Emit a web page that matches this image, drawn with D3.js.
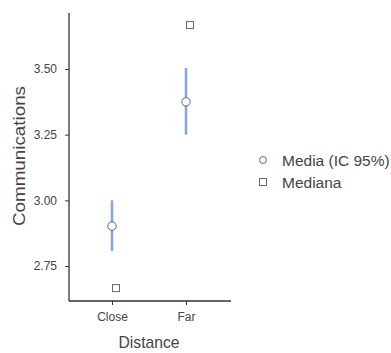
<!DOCTYPE html>
<html>
<head>
<meta charset="utf-8">
<script src="https://cdn.jsdelivr.net/npm/d3@7"></script>
<style>
  body { margin: 0; background: #fff; }
  svg text { font-family: "Liberation Sans", Arial, sans-serif; fill: #444; }
</style>
</head>
<body>
<div id="chart"></div>
<script>
// データ
const categories = ["Close", "Far"];
const means = [2.902, 3.375];
const ciLow = [2.807, 3.25];
const ciHigh = [3.0, 3.504];
const medians = [2.666, 3.667];
const yTicks = [2.75, 3.00, 3.25, 3.50];
const legendLabels = ["Media (IC 95%)", "Mediana"];

const width = 391, height = 353;
const svg = d3.select("#chart").append("svg")
  .attr("width", width)
  .attr("height", height);

const x = d3.scalePoint()
  .domain(categories)
  .range([112, 186]);

const y = d3.scaleLinear()
  .domain([2.617, 3.713])
  .range([301, 13]);

// 軸線
svg.append("line")
  .attr("x1", 69).attr("x2", 69)
  .attr("y1", y(3.713)).attr("y2", 301)
  .attr("stroke", "#333").attr("stroke-width", 1.3);
svg.append("line")
  .attr("x1", 69).attr("x2", 231)
  .attr("y1", 301).attr("y2", 301)
  .attr("stroke", "#333").attr("stroke-width", 1.3);

const yAxis = svg.append("g")
  .attr("transform", "translate(69,0)")
  .call(d3.axisLeft(y).tickValues(yTicks).tickFormat(d3.format(".2f")).tickSize(4).tickPadding(8));
yAxis.select(".domain").remove();
yAxis.selectAll("line").attr("stroke", "#333");
yAxis.selectAll("text").attr("font-size", 12).style("fill", "#444");

const xAxis = svg.append("g")
  .attr("transform", "translate(0,301)")
  .call(d3.axisBottom(x).tickSize(4).tickPadding(7));
xAxis.select(".domain").remove();
xAxis.selectAll("line").attr("stroke", "#333");
xAxis.selectAll("text").attr("font-size", 12).style("fill", "#444");

// 軸タイトル
svg.append("text")
  .attr("transform", "translate(19,156) rotate(-90)")
  .attr("text-anchor", "middle")
  .attr("dominant-baseline", "central")
  .attr("font-size", 17)
  .attr("textLength", 140)
  .attr("lengthAdjust", "spacingAndGlyphs")
  .text("Communications");

svg.append("text")
  .attr("x", 149)
  .attr("y", 348)
  .attr("text-anchor", "middle")
  .attr("font-size", 17)
  .attr("textLength", 61)
  .attr("lengthAdjust", "spacingAndGlyphs")
  .text("Distance");

// エラーバー
svg.selectAll("line.ci")
  .data(categories)
  .enter()
  .append("line")
  .attr("class", "ci")
  .attr("x1", d => x(d)).attr("x2", d => x(d))
  .attr("y1", (d, i) => y(ciLow[i]))
  .attr("y2", (d, i) => y(ciHigh[i]))
  .attr("stroke", "#7ea6e8")
  .attr("stroke-width", 2.5);

// 平均
svg.selectAll("circle.mean")
  .data(categories)
  .enter()
  .append("circle")
  .attr("class", "mean")
  .attr("cx", d => x(d))
  .attr("cy", (d, i) => y(means[i]))
  .attr("r", 4.2)
  .attr("fill", "#fff")
  .attr("stroke", "#666")
  .attr("stroke-width", 1);

// 中央値
svg.selectAll("rect.median")
  .data(categories)
  .enter()
  .append("rect")
  .attr("class", "median")
  .attr("x", d => x(d) + 4 - 3.5)
  .attr("y", (d, i) => y(medians[i]) - 3.5)
  .attr("width", 7)
  .attr("height", 7)
  .attr("fill", "#fff")
  .attr("stroke", "#666")
  .attr("stroke-width", 1);

// 凡例
const legend = svg.append("g").attr("transform", "translate(263,160)");
legend.append("circle")
  .attr("cx", 0).attr("cy", 0).attr("r", 3.5)
  .attr("fill", "#fff").attr("stroke", "#666");
legend.append("rect")
  .attr("x", -3.5).attr("y", 22 - 3.5).attr("width", 7).attr("height", 7)
  .attr("fill", "#fff").attr("stroke", "#666");
legend.selectAll("text")
  .data(legendLabels)
  .enter()
  .append("text")
  .attr("x", 19)
  .attr("y", (d, i) => i * 22)
  .attr("dominant-baseline", "central")
  .attr("font-size", 15.5)
  .text(d => d);
</script>
</body>
</html>
